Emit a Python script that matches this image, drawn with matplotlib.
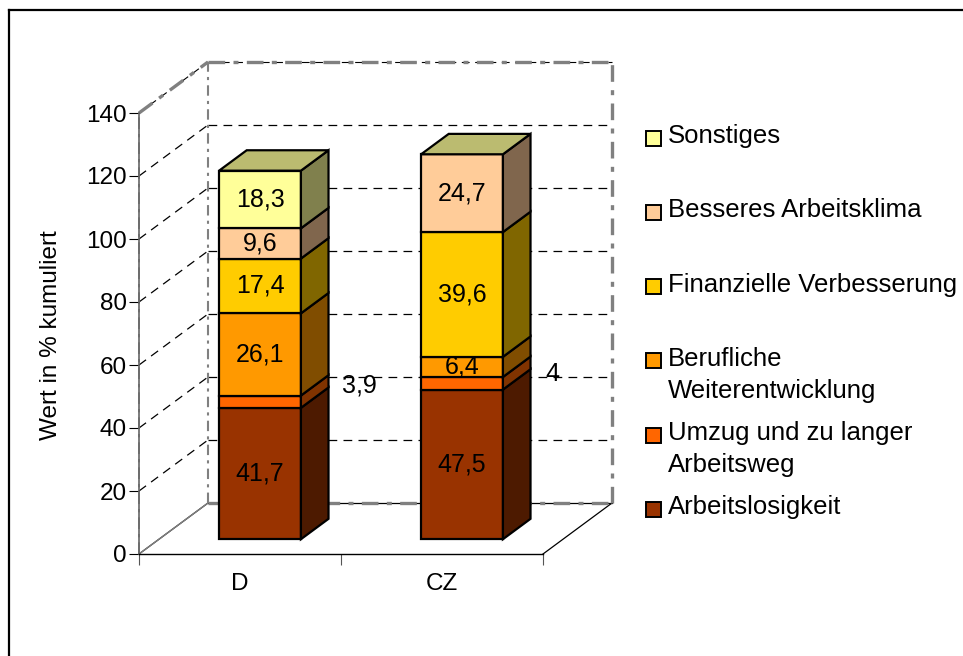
import matplotlib
matplotlib.use('Agg')
import matplotlib.pyplot as plt
import matplotlib.colors as clrs
from matplotlib.lines import Line2D
from matplotlib.patches import Polygon, Rectangle

plt.rcParams['font.family'] = ['Liberation Sans', 'DejaVu Sans']

categories = ['D', 'CZ']
series = ['Arbeitslosigkeit', 'Umzug und zu langer\nArbeitsweg', 'Berufliche\nWeiterentwicklung',
          'Finanzielle Verbesserung', 'Besseres Arbeitsklima', 'Sonstiges']
colors = ['#993300', '#FF6600', '#FF9900', '#FFCC00', '#FFCC99', '#FFFF99']
d_values = [41.7, 3.9, 26.1, 17.4, 9.6, 18.3]
cz_values = [47.5, 4, 6.4, 39.6, 24.7, 0]
y_ticks = [0, 20, 40, 60, 80, 100, 120, 140]

W, H = 963, 656
ax_left, ax_right, ax_bottom, ax_top = 139, 543, 554, 113
depth_x = 69 / 202.0      # wall depth in category units
depth_y = 51 / 3.15       # wall depth in value units
bar_w = 0.405
bar_start = 0.29          # bar front plane, fraction of depth
bar_depth = 0.40
FS = 17.5
grid_dash = (0, (7, 5))


def shade(col):
    r, g, b = clrs.to_rgb(col)
    return (r * 0.5, g * 0.5, b * 0.5)


def off(x, y, f):
    return (x + f * depth_x, y + f * depth_y)


fig = plt.figure(figsize=(W / 100, H / 100), dpi=100)
# only the top and left of the outer frame fall inside the picture
fig.add_artist(Line2D([8.7 / W, 8.7 / W], [0, 1 - 10 / H], color='black', lw=1.6))
fig.add_artist(Line2D([8.7 / W, 1], [1 - 10 / H, 1 - 10 / H], color='black', lw=1.6))

ax = fig.add_axes([ax_left / W, 1 - ax_bottom / H, (ax_right - ax_left) / W, (ax_bottom - ax_top) / H])
ax.set_xlim(-0.5, 1.5)
ax.set_ylim(0, 140)
ax.patch.set_visible(False)
for s in ['top', 'right']:
    ax.spines[s].set_visible(False)
ax.spines['left'].set_color('#666666')
ax.spines['left'].set_linewidth(1.2)
ax.spines['bottom'].set_linewidth(1.0)

ax.set_xticks([-0.5, 0.5, 1.5])
ax.set_xticklabels([])
ax.set_yticks(y_ticks)
ax.tick_params(axis='y', length=7, width=0.8, labelsize=FS, pad=2)
ax.tick_params(axis='x', length=8, width=0.8, color='#555555')
for i, c in enumerate(categories):
    ax.text(i, -9.5, c, ha='center', va='center', fontsize=FS)
ax.set_ylabel('Wert in % kumuliert', fontsize=FS)
ax.yaxis.set_label_coords((62 - ax_left) / (ax_right - ax_left), 0.4966)

# walls and gridlines
x0, x1 = -0.5, 1.5
for v in y_ticks[1:-1]:
    bx, by = off(x0, v, 1)
    ax.plot([x0, bx], [v, by], color='black', lw=0.9, ls=grid_dash, clip_on=False, zorder=1)
    ax.plot([bx, bx + 2], [by, by], color='black', lw=0.9, ls=grid_dash, clip_on=False, zorder=1)

bl = off(x0, 0, 1)
br = off(x1, 0, 1)
tl = off(x0, 140, 1)
tr = off(x1, 140, 1)
ax.plot([x0, tl[0]], [140, tl[1]], color='black', lw=0.8, ls=grid_dash, clip_on=False, zorder=1.4)
ax.plot([tl[0], tr[0]], [tl[1], tr[1]], color='black', lw=0.8, ls=grid_dash, clip_on=False, zorder=1.4)
ax.plot([bl[0], br[0]], [bl[1], br[1]], color='black', lw=0.9, clip_on=False, zorder=1.4)
ax.plot([x0, bl[0]], [0, bl[1]], color='black', lw=0.9, clip_on=False, zorder=1.4)
ax.plot([x1, br[0]], [0, br[1]], color='black', lw=0.9, clip_on=False, zorder=1.4)

wall_style = dict(color='#808080', lw=2.4, ls=(0, (5, 2.5, 1.5, 2.5)), clip_on=False, zorder=1.5)
ax.plot([bl[0], tl[0]], [bl[1], tl[1]], **{**wall_style, 'lw': 1.5})
ax.plot([br[0], tr[0]], [br[1], tr[1]], **wall_style)
ax.plot([tl[0], tr[0]], [tl[1], tr[1]], **wall_style)
ax.plot([x0, tl[0]], [140, tl[1]], **wall_style)
ax.plot([bl[0], br[0]], [bl[1], br[1]], **wall_style)
ax.plot([x0, x0], [0, 140], color='#808080', lw=1.2, ls=(0, (7, 3, 2, 3)), clip_on=False, zorder=1.5)
ax.plot([x0, bl[0]], [0, bl[1]], color='#808080', lw=1.0, clip_on=False, zorder=1.5)

# stacked bars, front plane pushed back into the box
edge = dict(ec='black', lw=1.6, clip_on=False, zorder=3, joinstyle='miter')
for i, vals in enumerate([d_values, cz_values]):
    fx = off(i - bar_w / 2, 0, bar_start)[0]
    fy = off(0, 0, bar_start)[1]
    bottom = 0
    for v, col in zip(vals, colors):
        if v > 0:
            ax.bar(fx, v, width=bar_w, bottom=bottom + fy, align='edge', color=col, **edge)
            top = bottom + v
            x_r = fx + bar_w
            side = [(x_r, bottom + fy), off(x_r, bottom + fy, bar_depth),
                    off(x_r, top + fy, bar_depth), (x_r, top + fy)]
            ax.add_patch(Polygon(side, fc=shade(col), **edge))
            bottom = top
            if v > 5:
                ax.text(fx + bar_w / 2, bottom - v / 2 + fy, str(v).replace('.', ','),
                        ha='center', va='center', fontsize=18, zorder=4, clip_on=False)
    # roof takes the colour of the last series, also where it has no value
    roof = [(fx, bottom + fy), (fx + bar_w, bottom + fy),
            off(fx + bar_w, bottom + fy, bar_depth), off(fx, bottom + fy, bar_depth)]
    ax.add_patch(Polygon(roof, fc='#BBBB70', **edge))

# small labels next to the bars
for i, vals in enumerate([d_values, cz_values]):
    fx = off(i - bar_w / 2, 0, bar_start)[0]
    lab_x = {0: fx + bar_w + 0.29, 1: fx + bar_w + 0.245}[i]
    ax.text(lab_x, 53.5 if i == 0 else 57, str(vals[1]).replace('.', ','), ha='center', va='center',
            fontsize=18, zorder=4, clip_on=False)

# legend by hand, the boxes are small squares beside the text
legend_box = [138.5, 212, 286, 360.5, 435, 509]
legend_base = [143, 217, 292, 366, 440, 514]
for name, col, by, ty in zip(series[::-1], colors[::-1], legend_box, legend_base):
    fig.add_artist(Rectangle((646 / W, 1 - (by + 7.5) / H), 15 / W, 15 / H, transform=fig.transFigure,
                             fc=col, ec='black', lw=1.4))
    for k, line in enumerate(name.split('\n')):
        fig.text(668 / W, 1 - (ty + 32 * k) / H, line, ha='left', va='baseline', fontsize=18.55)

fig.savefig('out.png', dpi=100)
